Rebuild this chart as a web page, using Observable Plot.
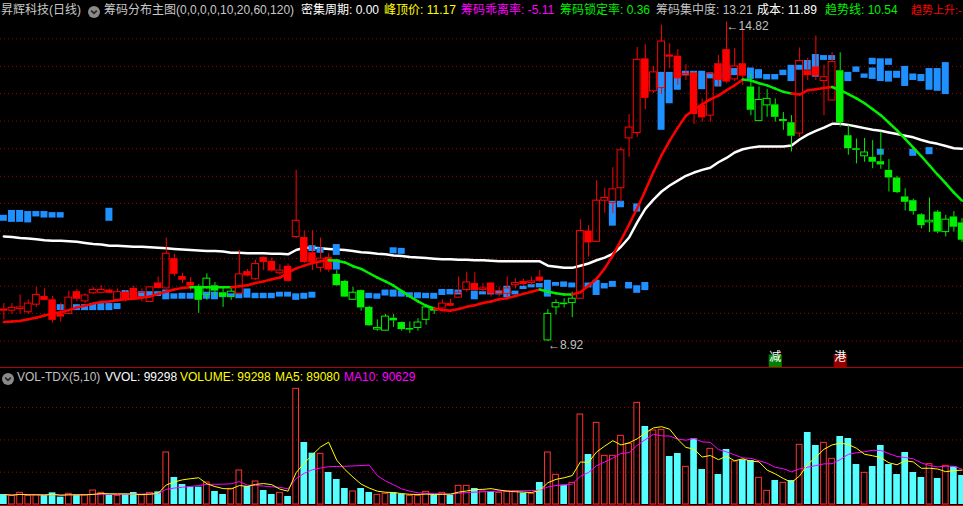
<!DOCTYPE html>
<html><head><meta charset="utf-8">
<script src="https://cdn.jsdelivr.net/npm/d3@7"></script>
<script src="https://cdn.jsdelivr.net/npm/@observablehq/plot@0.6"></script>
<style>
html,body{margin:0;padding:0;background:#000;}
#wrap{position:relative;width:963px;height:506px;overflow:hidden;background:#000;font-family:"Liberation Sans","Noto Sans CJK SC",sans-serif;}
.hdr{position:absolute;white-space:nowrap;font-size:12px;line-height:16px;}
.icon{position:absolute;width:12px;height:12px;}
.line{position:absolute;left:0;width:963px;height:1px;background:#b00000;}
</style></head>
<body><div id="wrap"></div>
<script>
// ---------- data ----------
const openP = [9.52,9.49,9.52,9.46,9.60,9.75,9.69,9.43,9.43,9.84,
9.66,9.81,9.82,9.87,9.69,9.83,9.90,9.74,9.65,10.00,
9.90,10.45,10.12,10.01,9.94,9.78,9.95,9.82,9.74,9.80,
10.21,10.07,10.47,10.40,10.18,10.31,10.85,10.84,10.56,10.28,
10.47,10.16,10.03,9.69,9.86,9.55,9.14,9.12,9.35,9.27,
9.14,9.17,9.32,9.52,9.53,9.62,9.73,9.87,9.99,9.87,
10.00,9.80,9.80,9.96,10.03,10.00,10.11,8.94,9.55,9.63,
9.63,9.71,10.96,10.76,11.52,11.48,11.75,12.67,12.77,14.14,
13.54,13.60,14.21,14.19,13.83,13.88,13.28,13.09,14.05,14.31,
13.76,14.05,13.62,12.99,13.28,13.29,12.99,12.96,12.76,13.92,
13.99,13.73,13.37,13.92,12.72,12.48,12.34,12.32,12.24,12.08,
11.94,11.59,11.52,11.26,11.12,11.31,10.94,11.22,11.11];
const highP = [9.62,9.62,9.78,9.69,9.92,9.89,9.75,9.62,9.85,9.88,
9.80,9.92,9.95,9.89,9.89,9.86,9.94,9.89,9.93,10.11,
10.83,10.53,10.18,10.10,9.97,10.17,10.01,9.89,9.89,10.60,
10.25,10.42,10.48,10.46,10.34,10.35,12.08,10.96,10.97,10.83,
10.54,10.23,10.05,9.92,9.87,9.57,9.32,9.42,9.42,9.28,
9.28,9.34,9.60,9.55,9.69,9.70,10.11,10.20,10.19,9.99,
10.01,9.92,10.11,10.08,10.07,10.11,10.23,9.51,9.69,9.71,
9.83,11.17,11.06,11.89,11.75,12.13,12.50,13.11,14.35,14.40,
14.00,14.76,14.42,14.31,14.03,13.90,13.40,13.89,14.20,14.82,
14.33,14.66,13.86,13.62,13.57,13.40,13.15,13.09,14.34,14.15,
14.56,14.02,14.26,14.25,12.91,12.66,12.67,12.63,12.79,12.28,
11.97,11.74,11.55,11.28,11.57,11.34,11.25,11.32,11.19];
const lowP = [9.32,9.42,9.43,9.42,9.55,9.67,9.26,9.28,9.42,9.65,
9.62,9.79,9.80,9.80,9.68,9.65,9.68,9.65,9.64,9.89,
9.89,10.12,9.99,9.85,9.44,9.68,9.74,9.55,9.68,9.78,
10.11,10.05,10.23,10.20,10.14,10.01,10.82,10.36,10.23,10.20,
10.20,9.94,9.73,9.68,9.48,9.20,9.11,9.11,9.18,9.11,
9.07,9.11,9.22,9.42,9.52,9.56,9.72,9.83,9.85,9.83,
9.74,9.74,9.74,9.89,9.94,9.95,10.01,8.92,9.41,9.54,
9.36,9.70,10.48,10.75,11.29,11.28,11.49,12.32,12.69,13.20,
13.50,13.48,13.96,13.65,13.74,12.93,12.97,12.97,13.62,13.68,
13.72,13.65,13.09,12.98,13.06,12.97,12.82,12.42,12.69,13.74,
13.74,13.09,13.36,12.88,12.36,12.20,12.23,12.11,12.10,11.68,
11.65,11.33,11.25,11.00,10.93,10.91,10.85,10.94,10.75];
const closeP = [9.48,9.54,9.55,9.62,9.78,9.68,9.31,9.37,9.73,9.70,
9.77,9.87,9.87,9.81,9.83,9.69,9.69,9.82,9.92,9.90,
10.54,10.16,10.05,9.94,9.68,10.08,9.85,9.74,9.84,10.16,
10.13,10.35,10.38,10.22,10.23,10.03,11.15,10.38,10.38,10.45,
10.24,9.95,9.74,9.82,9.54,9.21,9.17,9.38,9.30,9.14,
9.15,9.27,9.55,9.48,9.62,9.57,9.82,10.01,9.86,9.90,
9.80,9.85,9.90,10.00,9.97,10.03,10.03,9.43,9.63,9.60,
9.71,10.96,10.74,11.52,11.57,11.73,12.45,12.87,14.12,13.41,
13.89,14.46,14.17,13.77,13.86,13.11,13.05,13.86,13.74,13.71,
14.00,13.82,13.19,13.38,13.40,13.06,13.01,12.71,14.10,13.83,
13.82,13.80,14.08,12.96,12.48,12.45,12.41,12.23,12.18,11.94,
11.67,11.49,11.32,11.06,11.15,10.94,11.17,11.03,10.79];
const volume = [31000,26800,36100,26800,28900,28900,36100,22700,33000,28900,
28900,43300,36100,28900,26800,31000,37200,28900,36100,39200,
161000,83600,61900,53700,53700,68100,40200,31000,48500,105300,
55700,71200,43300,31000,36100,24800,358100,192000,158900,156900,
99100,77400,49500,40200,49500,37200,29900,33000,36100,32000,
26800,26800,39200,28900,36100,28900,57800,57800,49500,40200,
40200,36100,40200,40200,35100,33000,68100,161000,91900,59800,
67100,278600,154800,252800,150700,150700,212600,187800,314800,241500,
229100,231200,148600,157900,116600,203300,108400,172300,92900,170300,
133100,138300,136200,82600,42300,74300,67100,74300,184700,222900,
182700,190900,141400,210500,204300,123800,98000,117600,182700,123800,
92900,161000,99100,83600,124900,80500,119700,116600,89800];
// trend line (趋势线) and its state per bar: r = rising (red), g = falling (green)
const trendLine = [9.28,9.29,9.30,9.33,9.36,9.40,9.44,9.46,9.50,9.55,
9.58,9.62,9.65,9.66,9.68,9.70,9.71,9.73,9.75,9.80,
9.84,9.88,9.91,9.92,9.92,9.92,9.92,9.92,9.92,9.94,
9.96,10.00,10.03,10.07,10.10,10.19,10.27,10.32,10.37,10.40,
10.42,10.41,10.38,10.31,10.26,10.18,10.10,10.03,9.95,9.85,
9.75,9.66,9.58,9.53,9.50,9.49,9.52,9.56,9.59,9.63,
9.66,9.70,9.72,9.76,9.80,9.84,9.88,9.84,9.81,9.79,
9.79,9.83,9.95,10.08,10.27,10.51,10.79,11.08,11.38,11.71,
12.05,12.36,12.63,12.87,13.09,13.20,13.30,13.39,13.46,13.56,
13.65,13.76,13.74,13.69,13.65,13.59,13.53,13.50,13.48,13.56,
13.58,13.60,13.62,13.56,13.49,13.41,13.32,13.21,13.10,12.96,
12.82,12.66,12.50,12.34,12.17,12.00,11.84,11.67,11.52];
const trendState = "rrrrrrrrrrrrrrrrrrrrrrrr" + "ggggg" + "rrrrrrrrrrrr" + "ggggggggggggg" +
  "rrrrrrrrrrrrr" + "gggg" + "rrrrrrrrrrrrrrrrrrrrr" + "gggggg" + "rrrrr" + "gggggggggggggggg";
// cost line (white)
const costLine = [10.86,10.85,10.83,10.82,10.81,10.79,10.78,10.78,10.77,10.76,
10.74,10.72,10.71,10.69,10.69,10.68,10.67,10.67,10.66,10.65,
10.64,10.63,10.62,10.61,10.60,10.59,10.59,10.58,10.56,10.56,
10.55,10.55,10.55,10.54,10.54,10.53,10.61,10.65,10.65,10.64,
10.63,10.62,10.61,10.59,10.57,10.56,10.54,10.53,10.51,10.50,
10.48,10.47,10.46,10.45,10.44,10.44,10.43,10.43,10.42,10.42,
10.41,10.40,10.40,10.40,10.40,10.40,10.40,10.32,10.30,10.28,
10.28,10.32,10.36,10.42,10.47,10.54,10.67,10.84,11.12,11.37,
11.54,11.69,11.80,11.89,11.98,12.04,12.09,12.13,12.23,12.31,
12.41,12.47,12.50,12.52,12.52,12.52,12.52,12.54,12.65,12.74,
12.81,12.87,12.94,12.94,12.92,12.89,12.86,12.83,12.81,12.78,
12.75,12.72,12.69,12.64,12.60,12.57,12.53,12.49,12.48];
// chip blocks (blue)
const blueBar = [0,1,2,3,4,5,6,7,13,
7,9,10,11,12,13,14,15,16,17,18,19,20,21,22,23,24,25,26,27,28,29,30,31,32,33,34,35,36,37,38,
38,39,41,41,48,49,
45,46,47,48,49,50,51,52,53,54,55,56,58,59,60,61,62,63,64,65,66,67,68,69,70,72,73,74,75,77,78,79,
75,76,78,
81,82,83,84,85,86,87,88,89,90,92,93,94,95,96,97,98,99,100,101,102,104,105,106,107,107,108,109,109,110,111,112,113,114,115,116,
108,112,114];
const blueTop = [11.25,11.34,11.34,11.32,11.32,11.32,11.30,11.30,11.38,
9.60,9.60,9.60,9.62,9.62,9.62,9.62,9.86,9.84,9.84,9.84,9.84,9.87,9.80,9.81,9.81,9.83,9.83,9.83,9.81,9.80,9.81,9.89,9.81,9.81,9.81,9.83,9.83,9.80,9.81,9.83,
10.69,10.65,10.71,10.43,10.65,10.64,
9.81,9.80,9.87,9.87,9.85,9.82,9.82,9.81,9.81,9.88,9.88,9.87,9.85,9.84,9.85,9.85,9.94,9.85,9.94,9.97,9.99,10.05,10.01,10.02,10.00,10.00,10.05,9.99,10.03,10.01,9.95,10.01,
11.51,11.51,11.46,
13.89,13.89,13.89,13.91,13.91,13.91,13.88,13.86,14.02,13.96,13.97,13.94,13.85,13.85,13.93,14.02,14.02,14.11,14.22,14.20,14.20,13.89,13.99,13.86,14.15,13.97,14.14,14.14,13.91,13.91,14.00,13.86,13.85,13.96,13.96,14.07,
12.47,12.47,12.50];
const blueBottom = [11.14,11.12,11.12,11.11,11.22,11.20,11.20,11.20,11.14,
9.49,9.49,9.49,9.49,9.49,9.49,9.51,9.69,9.73,9.74,9.74,9.75,9.69,9.70,9.70,9.70,9.70,9.70,9.69,9.73,9.74,9.71,9.72,9.71,9.71,9.71,9.74,9.74,9.68,9.70,9.72,
10.58,10.55,10.51,10.24,10.54,10.53,
9.71,9.70,9.76,9.74,9.74,9.73,9.71,9.71,9.70,9.77,9.78,9.78,9.69,9.78,9.78,9.78,9.73,9.78,9.88,9.91,9.91,9.74,9.94,9.92,9.91,9.91,9.77,9.89,9.92,9.89,9.81,9.86,
11.05,11.39,11.31,
12.82,13.31,13.56,13.83,13.77,13.57,13.77,13.62,13.77,13.83,13.76,13.77,13.75,13.75,13.83,13.72,13.93,13.93,13.80,14.11,14.11,13.72,13.89,13.78,14.03,13.76,13.72,14.02,13.71,13.78,13.63,13.74,13.72,13.56,13.54,13.48,
12.36,12.34,12.37];
const signalBar = [95, 103];
const signalText = ["减", "港"];
const priceGrid = [8.93, 9.44, 9.94, 10.45, 10.96, 11.47, 11.97, 12.48, 12.99, 13.50, 14.00, 14.51];
const volumeGrid = [100000, 200000, 300000];
const headerText = ["昇辉科技(日线)", "筹码分布主图(0,0,0,0,10,20,60,120)", "密集周期: 0.00", "峰顶价: 11.17",
  "筹码乖离率: -5.11", "筹码锁定率: 0.36", "筹码集中度: 13.21", "成本: 11.89", "趋势线: 10.54", "趋势上升:-"];
const volHeaderText = ["VOL-TDX(5,10)", "VVOL: 99298", "VOLUME: 99298", "MA5: 89080", "MA10: 90629"];

// ---------- styles / layout ----------
const RED = "#ff0000", GREEN = "#00f000", BLUE = "#1e90ff", CYAN = "#55ffff", VRED = "#ff3232";
const headerX = [1, 104, 301, 384, 461, 560, 656, 757, 825, 911];
const headerSize = [12, 12, 12, 12, 12, 12, 12, 12, 12, 11];
const headerColor = ["#c8c8c8", "#c8c8c8", "#ffffff", "#ffff00", "#ff00ff", "#00f000", "#c0c0c0", "#ffffff", "#00f000", "#ff0000"];
const volHeaderX = [17, 105, 180, 275, 344];
const volHeaderColor = ["#c0c0c0", "#ffffff", "#ffff00", "#ffff00", "#ff00ff"];
const signalBg = ["#008000", "#900000"];

const N = openP.length;
const bars = d3.range(N).map(i => ({
  i, o: openP[i], h: highP[i], l: lowP[i], c: closeP[i], v: volume[i],
  up: closeP[i] >= openP[i], col: trendState[i] === "r" ? RED : GREEN
}));
const hollow = bars.filter(d => d.up), solid = bars.filter(d => !d.up);
const blue = blueBar.map((b, k) => ({i: b, t: blueTop[k], b: blueBottom[k]}));
const segs = d3.range(N - 1).map(i => ({
  x1: i, y1: trendLine[i], x2: i + 1, y2: trendLine[i + 1], col: trendState[i + 1] === "r" ? RED : GREEN
}));
const hiI = d3.maxIndex(highP), loI = d3.minIndex(lowP);
const extremes = [{i: hiI, p: highP[hiI]}, {i: loI, p: lowP[loI]}];
const signals = signalBar.map((b, k) => ({i: b, t: signalText[k], bg: signalBg[k]}));

const xOpt = {type: "linear", domain: [-0.4126, 118.183], range: [0, 963], axis: null};
const fontFam = '"Liberation Sans","Noto Sans CJK SC",sans-serif';

const main = Plot.plot({
  width: 963, height: 368, margin: 0,
  style: {background: "none", overflow: "visible", fontFamily: fontFam},
  x: xOpt,
  y: {domain: [8.92, 14.82], range: [341, 21.5], axis: null},
  color: {type: "identity"},
  marks: [
    Plot.ruleY(priceGrid, {stroke: "#a00000", strokeDasharray: "1,3"}),
    Plot.line(d3.range(N), {x: i => i, y: i => costLine[i], stroke: "#ffffff", strokeWidth: 2.5}),
    Plot.rect(blue, {x1: d => d.i - 0.43, x2: d => d.i + 0.43, y1: "t", y2: "b", fill: BLUE}),
    Plot.ruleX(bars, {x: "i", y1: "h", y2: d => Math.max(d.o, d.c), stroke: "col"}),
    Plot.ruleX(bars, {x: "i", y1: d => Math.min(d.o, d.c), y2: "l", stroke: "col"}),
    Plot.rect(solid, {x1: d => d.i - 0.46, x2: d => d.i + 0.46, y1: "o", y2: "c", fill: "col"}),
    Plot.rect(hollow, {x1: d => d.i - 0.42, x2: d => d.i + 0.42, y1: "o", y2: "c", fill: "none", stroke: "col", strokeWidth: 1}),
    Plot.link(segs, {x1: "x1", y1: "y1", x2: "x2", y2: "y2", stroke: "col", strokeWidth: 2.5, strokeLinecap: "round"}),
    Plot.text(extremes, {x: "i", y: "p", text: d => "←" + d.p.toFixed(2), textAnchor: "start", dy: 4, fill: "#c0c0c0", fontSize: 12}),
    Plot.dot(signals, {x: "i", frameAnchor: "bottom", dy: -7.5, symbol: "square", r: 7.4, fill: "bg", stroke: "none"}),
    Plot.text(signals, {x: "i", frameAnchor: "bottom", dy: -7.5, text: "t", fill: "#ffffff", fontSize: 12})
  ]
});

const vol = Plot.plot({
  width: 963, height: 138, margin: 0,
  style: {background: "none", overflow: "visible"},
  x: xOpt,
  y: {domain: [0, 300000], range: [136, 39.1], axis: null},
  marks: [
    Plot.ruleY(volumeGrid, {stroke: "#a00000", strokeDasharray: "1,3"}),
    Plot.ruleY([0], {stroke: "#c00000", dy: 1}),
    Plot.rect(solid, {x1: d => d.i - 0.41, x2: d => d.i + 0.41, y1: 0, y2: "v", fill: CYAN}),
    Plot.rect(hollow, {x1: d => d.i - 0.35, x2: d => d.i + 0.35, y1: 0, y2: "v", fill: "none", stroke: VRED}),
    Plot.lineY(bars, Plot.windowY({k: 10, anchor: "end", reduce: "mean"}, {x: "i", y: "v", stroke: "#ff00ff", strokeWidth: 1})),
    Plot.lineY(bars, Plot.windowY({k: 5, anchor: "end", reduce: "mean"}, {x: "i", y: "v", stroke: "#ffff00", strokeWidth: 1}))
  ]
});

const wrap = document.getElementById("wrap");
main.style.position = "absolute"; main.style.left = "0px"; main.style.top = "0px";
vol.style.position = "absolute"; vol.style.left = "0px"; vol.style.top = "368px";
wrap.appendChild(main);
wrap.appendChild(vol);
const sep = document.createElement("div"); sep.className = "line"; sep.style.top = "367px"; wrap.appendChild(sep);

function addText(txt, x, top, color, size) {
  const s = document.createElement("div");
  s.className = "hdr"; s.textContent = txt;
  s.style.left = x + "px"; s.style.top = top + "px"; s.style.color = color;
  if (size) s.style.fontSize = size + "px";
  wrap.appendChild(s);
}
function addIcon(x, top) {
  const d = document.createElement("div");
  d.className = "icon"; d.style.left = x + "px"; d.style.top = top + "px";
  d.innerHTML = '<svg width="12" height="12"><circle cx="6" cy="6" r="6" fill="#8a8a8a"/><path d="M3.2 4.6 L6 7.4 L8.8 4.6" stroke="#262626" stroke-width="1.6" fill="none"/></svg>';
  wrap.appendChild(d);
}
headerText.forEach((t, k) => addText(t, headerX[k], 2, headerColor[k], headerSize[k]));
addIcon(88, 4);
volHeaderText.forEach((t, k) => addText(t, volHeaderX[k], 369, volHeaderColor[k]));
addIcon(2, 371);
</script>
</body></html>
